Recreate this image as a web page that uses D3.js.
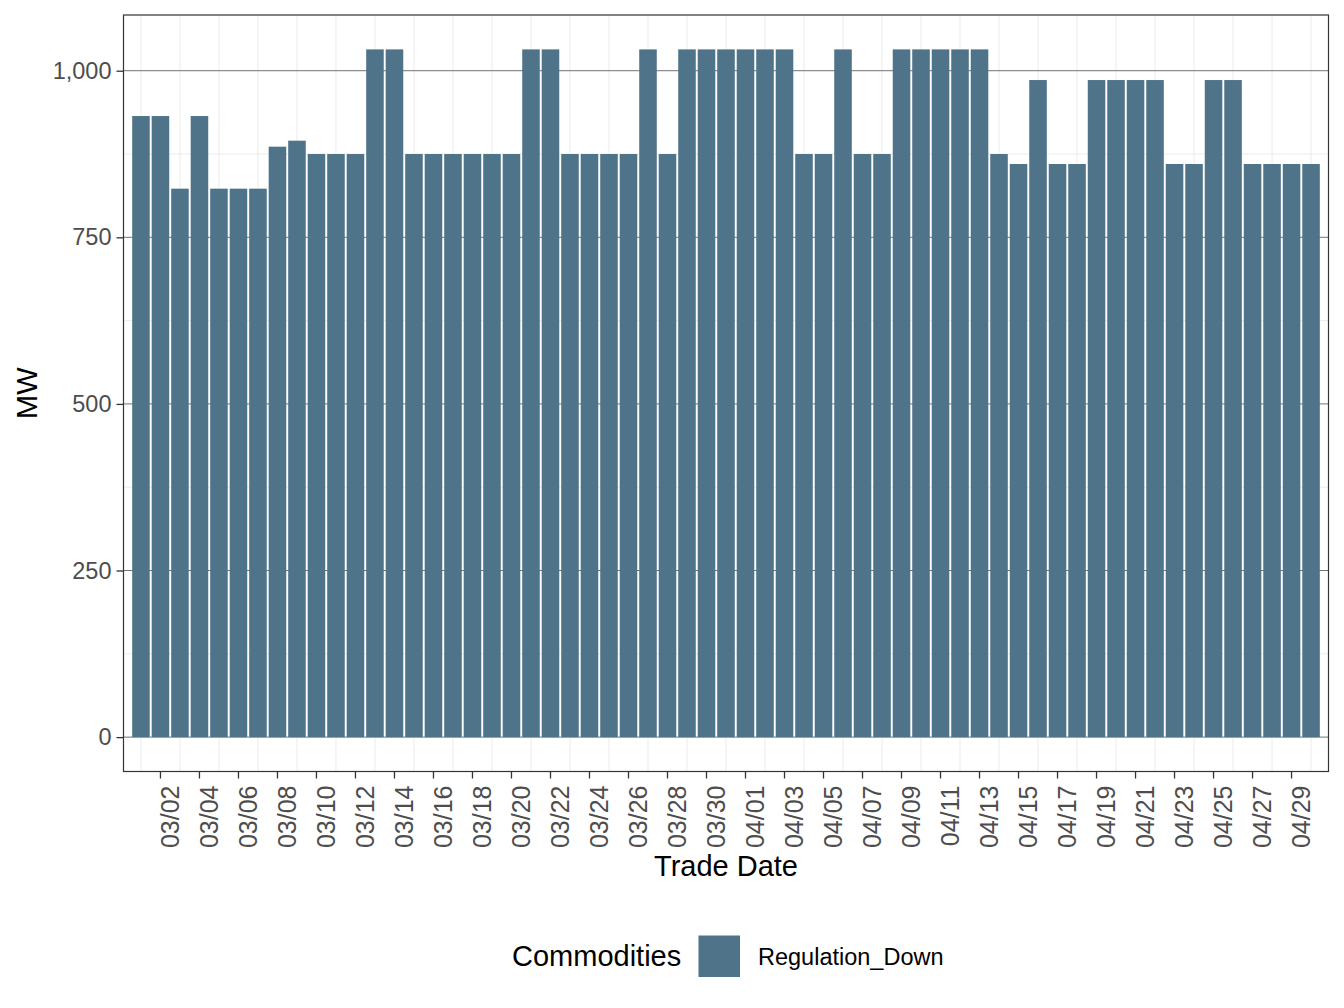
<!DOCTYPE html>
<html>
<head>
<meta charset="utf-8">
<script src="https://cdn.jsdelivr.net/npm/d3@7"></script>
<style>
  body { margin: 0; background: #fff; }
  text { font-family: "Liberation Sans", Arial, sans-serif; }
</style>
</head>
<body>
<div id="chart"></div>
<script>
// Trade dates, 03/01 .. 04/30
const dates = [
    "03/01", "03/02", "03/03", "03/04", "03/05", "03/06", "03/07", "03/08", "03/09", "03/10",
    "03/11", "03/12", "03/13", "03/14", "03/15", "03/16", "03/17", "03/18", "03/19", "03/20",
    "03/21", "03/22", "03/23", "03/24", "03/25", "03/26", "03/27", "03/28", "03/29", "03/30",
    "03/31", "04/01", "04/02", "04/03", "04/04", "04/05", "04/06", "04/07", "04/08", "04/09",
    "04/10", "04/11", "04/12", "04/13", "04/14", "04/15", "04/16", "04/17", "04/18", "04/19",
    "04/20", "04/21", "04/22", "04/23", "04/24", "04/25", "04/26", "04/27", "04/28", "04/29",
    "04/30"
];

// Regulation_Down MW per day
const regDown = [
    932, 932, 823, 932, 823, 823, 823, 886, 895, 875,
    875, 875, 1032, 1032, 875, 875, 875, 875, 875, 875,
    1032, 1032, 875, 875, 875, 875, 1032, 875, 1032, 1032,
    1032, 1032, 1032, 1032, 875, 875, 1032, 875, 875, 1032,
    1032, 1032, 1032, 1032, 875, 860, 986, 860, 860, 986,
    986, 986, 986, 860, 860, 986, 986, 860, 860, 860,
    860
];

const xTickLabels = [
    "03/02", "03/04", "03/06", "03/08", "03/10", "03/12", "03/14", "03/16", "03/18", "03/20",
    "03/22", "03/24", "03/26", "03/28", "03/30", "04/01", "04/03", "04/05", "04/07", "04/09",
    "04/11", "04/13", "04/15", "04/17", "04/19", "04/21", "04/23", "04/25", "04/27", "04/29"
];
const xMinorDates = dates.filter(d => !xTickLabels.includes(d));

const yTicks = [0, 250, 500, 750, 1000];
const yMinor = [125, 375, 625, 875];

const width = 1344;
const height = 1008;
const panel = { left: 123.5, right: 1328.5, top: 15, bottom: 771.5 };
const barColor = "#4f7489";

const svg = d3.select("#chart").append("svg")
    .attr("width", width)
    .attr("height", height);

const xScale = d3.scaleBand()
    .domain(dates)
    .range([panel.left, panel.right])
    .paddingInner(0.1)
    .paddingOuter(0.445);

const yScale = d3.scaleLinear()
    .domain([-51.6, 1083.6])
    .range([panel.bottom, panel.top]);

const xMid = d => xScale(d) + xScale.bandwidth() / 2;

// grid lines
svg.append("g")
    .selectAll("line")
    .data(xMinorDates)
    .enter()
    .append("line")
    .attr("x1", xMid).attr("x2", xMid)
    .attr("y1", panel.top).attr("y2", panel.bottom)
    .attr("stroke", "#ebebeb")
    .attr("stroke-width", 1);

svg.append("g")
    .selectAll("line")
    .data(yMinor)
    .enter()
    .append("line")
    .attr("x1", panel.left).attr("x2", panel.right)
    .attr("y1", d => yScale(d)).attr("y2", d => yScale(d))
    .attr("stroke", "#ebebeb")
    .attr("stroke-width", 1);

svg.append("g")
    .selectAll("line")
    .data(yTicks)
    .enter()
    .append("line")
    .attr("x1", panel.left).attr("x2", panel.right)
    .attr("y1", d => yScale(d)).attr("y2", d => yScale(d))
    .attr("stroke", "#737373")
    .attr("stroke-width", 1);

// bars
svg.append("g")
    .selectAll("rect")
    .data(regDown)
    .enter()
    .append("rect")
    .attr("x", (d, i) => xScale(dates[i]))
    .attr("width", xScale.bandwidth())
    .attr("y", d => yScale(d))
    .attr("height", d => yScale(0) - yScale(d))
    .attr("fill", barColor);

// panel border
svg.append("rect")
    .attr("x", panel.left)
    .attr("y", panel.top)
    .attr("width", panel.right - panel.left)
    .attr("height", panel.bottom - panel.top)
    .attr("fill", "none")
    .attr("stroke", "#333333")
    .attr("stroke-width", 1.2);

// y axis
const yAxis = svg.append("g")
    .attr("transform", `translate(${panel.left}, 0)`)
    .call(d3.axisLeft(yScale).tickValues(yTicks).tickFormat(d3.format(",")).tickSize(7).tickPadding(5));
yAxis.select(".domain").remove();
yAxis.selectAll("line").attr("stroke", "#333333").attr("stroke-width", 1.3);
yAxis.selectAll("text")
    .attr("fill", "#4d4d4d")
    .style("font-size", "23.5px")
    .style("font-family", "Liberation Sans, Arial, sans-serif");

// x axis - labels rotated, left glyph edge sits on the tick
const xAxis = svg.append("g")
    .attr("transform", `translate(0, ${panel.bottom})`)
    .call(d3.axisBottom(xScale).tickValues(xTickLabels).tickSize(7));
xAxis.select(".domain").remove();
xAxis.selectAll("line").attr("stroke", "#333333").attr("stroke-width", 1.3);
xAxis.selectAll("text")
    .attr("transform", "rotate(-90)")
    .attr("x", -14)
    .attr("y", 0)
    .attr("dy", "0.74em")
    .style("text-anchor", "end")
    .attr("fill", "#4d4d4d")
    .style("font-size", "25px")
    .style("font-family", "Liberation Sans, Arial, sans-serif");

// axis titles
svg.append("text")
    .attr("x", (panel.left + panel.right) / 2)
    .attr("y", 876)
    .attr("text-anchor", "middle")
    .style("font-size", "29px")
    .text("Trade Date");

svg.append("text")
    .attr("transform", "rotate(-90)")
    .attr("x", -(panel.top + panel.bottom) / 2)
    .attr("y", 36.5)
    .attr("text-anchor", "middle")
    .style("font-size", "29px")
    .text("MW");

// legend
const legend = svg.append("g").attr("class", "legend");

legend.append("text")
    .attr("x", 512)
    .attr("y", 966)
    .style("font-size", "29px")
    .text("Commodities");

legend.append("rect")
    .attr("x", 698.5)
    .attr("y", 935.5)
    .attr("width", 41.5)
    .attr("height", 41.5)
    .attr("fill", barColor);

legend.append("text")
    .attr("x", 758)
    .attr("y", 964.5)
    .style("font-size", "23.5px")
    .text("Regulation_Down");
</script>
</body>
</html>
